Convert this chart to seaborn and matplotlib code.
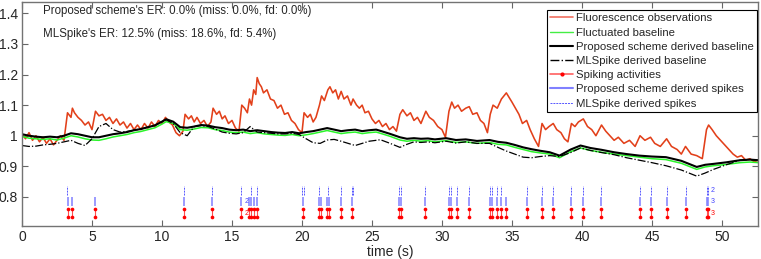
import numpy as np
import pandas as pd
import matplotlib
matplotlib.use("Agg")
import matplotlib.pyplot as plt
import seaborn as sns
from matplotlib.lines import Line2D
from matplotlib.ticker import FormatStrFormatter

# fluorescence observations (time in s, dF/F)
obs_t = [0.0, 0.25, 0.5, 0.75, 1.0, 1.25, 1.5, 1.75, 2.0, 2.25, 2.5, 2.75, 3.0, 3.25, 3.5, 3.6,
         3.75, 4.0, 4.25, 4.5, 4.75, 5.0, 5.25, 5.5, 5.75, 6.0, 6.25, 6.5, 6.75, 7.0, 7.25, 7.5,
         7.75, 8.0, 8.25, 8.5, 8.75, 9.0, 9.25, 9.5, 9.75, 10.0, 10.25, 10.5, 10.75, 11.0, 11.25,
         11.5, 11.65, 11.9, 12.1, 12.3, 12.5, 12.75, 13.0, 13.25, 13.5, 13.65, 13.9, 14.1, 14.3,
         14.5, 14.75, 15.0, 15.25, 15.5, 15.7, 15.9, 16.1, 16.25, 16.4, 16.55, 16.7, 16.8, 16.95,
         17.1, 17.25, 17.5, 17.75, 18.0, 18.25, 18.5, 18.75, 19.0, 19.25, 19.5, 19.75, 20.0, 20.15,
         20.4, 20.6, 20.8, 21.0, 21.25, 21.4, 21.6, 21.85, 22.0, 22.2, 22.4, 22.6, 22.8, 23.0,
         23.25, 23.5, 23.65, 23.9, 24.1, 24.3, 24.5, 24.75, 25.0, 25.25, 25.5, 25.75, 26.0, 26.25,
         26.5, 26.75, 27.0, 27.2, 27.5, 27.75, 28.0, 28.25, 28.5, 28.85, 29.1, 29.4, 29.7, 30.0,
         30.25, 30.5, 30.7, 30.9, 31.15, 31.4, 31.7, 31.95, 32.2, 32.5, 32.75, 33.0, 33.25, 33.45,
         33.65, 33.95, 34.25, 34.6, 34.8, 35.0, 35.25, 35.5, 35.75, 36.05, 36.3, 36.6, 36.9, 37.15,
         37.4, 37.65, 37.95, 38.2, 38.5, 38.75, 39.0, 39.25, 39.5, 39.75, 40.1, 40.4, 40.7, 41.0,
         41.4, 41.7, 42.0, 42.3, 42.6, 43.0, 43.4, 43.8, 44.15, 44.5, 44.9, 45.2, 45.6, 46.05,
         46.4, 46.8, 47.1, 47.4, 47.8, 48.2, 48.6, 48.9, 49.05, 49.3, 49.6, 49.9, 50.2, 50.5,
         50.8, 51.1, 51.4, 51.7, 52.0, 52.3, 52.6]
obs_v = [1.005, 0.99, 1.01, 0.985, 1.0, 0.98, 0.995, 0.975, 0.99, 0.97, 0.985, 1.0, 0.985, 1.075,
         1.06, 1.09, 1.075, 1.06, 1.05, 1.035, 1.045, 1.02, 1.08, 1.065, 1.07, 1.05, 1.06, 1.04,
         1.055, 1.035, 1.045, 1.025, 1.04, 1.02, 1.035, 1.02, 1.04, 1.025, 1.045, 1.03, 1.05, 1.04,
         1.06, 1.045, 1.035, 1.01, 1.0, 1.015, 1.07, 1.055, 1.065, 1.045, 1.06, 1.04, 1.05, 1.03,
         1.045, 1.09, 1.07, 1.08, 1.055, 1.065, 1.04, 1.05, 1.025, 1.015, 1.1, 1.09, 1.075, 1.12,
         1.1, 1.15, 1.135, 1.19, 1.17, 1.16, 1.14, 1.15, 1.12, 1.115, 1.09, 1.1, 1.07, 1.075, 1.05,
         1.04, 1.02, 1.01, 1.075, 1.06, 1.07, 1.045, 1.06, 1.1, 1.13, 1.115, 1.15, 1.16, 1.14, 1.15,
         1.12, 1.145, 1.12, 1.13, 1.1, 1.12, 1.1, 1.09, 1.1, 1.075, 1.08, 1.055, 1.04, 1.05, 1.03,
         1.04, 1.02, 1.03, 1.015, 1.07, 1.085, 1.065, 1.075, 1.05, 1.06, 1.04, 1.08, 1.06, 1.05,
         1.03, 1.02, 0.995, 1.08, 1.11, 1.09, 1.1, 1.08, 1.09, 1.095, 1.07, 1.075, 1.05, 1.04, 1.01,
         1.07, 1.1, 1.09, 1.12, 1.14, 1.125, 1.11, 1.09, 1.07, 1.04, 1.05, 1.02, 0.99, 0.965, 1.04,
         1.02, 1.03, 1.04, 1.02, 1.01, 0.99, 0.98, 1.04, 1.03, 1.045, 1.055, 1.03, 1.02, 1.0, 1.035,
         1.015, 1.0, 0.985, 0.995, 0.975, 0.985, 0.965, 1.0, 0.985, 0.995, 0.975, 0.965, 0.99,
         0.965, 0.955, 0.94, 0.965, 0.94, 0.935, 0.925, 1.02, 1.035, 1.02, 1.0, 0.985, 0.97, 0.955,
         0.94, 0.93, 0.935, 0.92, 0.925, 0.915, 0.92]

# baselines
base_t = [0.0, 0.5, 1.0, 1.5, 2.0, 2.5, 3.0, 3.5, 4.0, 4.5, 5.0, 5.5, 6.0, 6.5, 7.0, 7.5, 8.0,
          8.5, 9.0, 9.5, 10.0, 10.3, 10.8, 11.3, 11.8, 12.3, 12.8, 13.3, 13.8, 14.3, 14.8, 15.3,
          15.8, 16.3, 16.8, 17.3, 17.8, 18.3, 18.8, 19.3, 19.8, 20.3, 20.8, 21.3, 21.8, 22.3,
          22.8, 23.3, 23.8, 24.3, 24.8, 25.3, 25.6, 26.3, 27.0, 27.5, 28.0, 28.5, 29.0, 29.5,
          30.3, 31.0, 31.7, 32.5, 33.4, 34.0, 34.6, 35.2, 35.8, 36.4, 37.0, 37.7, 38.4, 39.2,
          39.9, 40.6, 41.4, 42.3, 43.2, 44.1, 45.0, 46.0, 47.1, 48.2, 48.8, 49.4, 50.3, 51.3,
          52.0, 52.6]
fluct_v = [0.998, 0.992, 0.99, 0.988, 0.99, 0.986, 0.992, 1.0, 0.996, 0.99, 0.986, 0.985, 0.99,
           0.996, 1.0, 1.004, 1.01, 1.014, 1.02, 1.026, 1.038, 1.046, 1.04, 1.02, 1.018, 1.022,
           1.027, 1.026, 1.02, 1.017, 1.012, 1.01, 1.012, 1.007, 1.01, 1.006, 1.004, 1.002, 1.001,
           1.004, 1.0, 1.003, 1.007, 1.012, 1.017, 1.012, 1.007, 1.01, 1.012, 1.007, 1.01, 1.012,
           1.008, 0.998, 0.986, 0.982, 0.985, 0.982, 0.984, 0.98, 0.984, 0.978, 0.98, 0.975, 0.978,
           0.972, 0.97, 0.962, 0.955, 0.948, 0.944, 0.94, 0.928, 0.948, 0.96, 0.952, 0.946, 0.94,
           0.935, 0.93, 0.925, 0.922, 0.91, 0.89, 0.898, 0.902, 0.906, 0.912, 0.914, 0.912]
proposed_v = [1.005, 1.0, 0.997, 0.995, 0.997, 0.995, 1.0, 1.008, 1.005, 1.0, 0.995, 0.995, 1.0,
              1.005, 1.008, 1.012, 1.018, 1.022, 1.028, 1.034, 1.046, 1.054, 1.046, 1.028, 1.026,
              1.03, 1.035, 1.033, 1.028, 1.025, 1.02, 1.018, 1.02, 1.015, 1.018, 1.015, 1.012,
              1.01, 1.009, 1.012, 1.008, 1.012, 1.015, 1.02, 1.025, 1.02, 1.015, 1.018, 1.02,
              1.015, 1.018, 1.02, 1.016, 1.006, 0.995, 0.99, 0.992, 0.99, 0.991, 0.988, 0.992,
              0.986, 0.988, 0.983, 0.986, 0.98, 0.977, 0.97, 0.962, 0.956, 0.951, 0.946, 0.935,
              0.955, 0.968, 0.96, 0.954, 0.946, 0.94, 0.935, 0.932, 0.93, 0.918, 0.898, 0.905,
              0.908, 0.913, 0.92, 0.922, 0.92]
mlspike_v = [0.968, 0.965, 0.966, 0.97, 0.972, 0.975, 0.98, 0.985, 0.975, 0.968, 0.99, 1.03,
             1.04, 1.02, 1.012, 1.014, 1.018, 1.022, 1.028, 1.034, 1.046, 1.052, 1.04, 1.01, 1.0,
             1.03, 1.033, 1.03, 1.022, 1.012, 1.008, 1.006, 1.01, 1.03, 1.012, 1.01, 1.008,
             1.006, 1.006, 1.008, 1.004, 0.99, 0.977, 0.975, 0.986, 0.988, 0.982, 0.975, 0.968,
             0.975, 0.982, 0.985, 0.987, 0.975, 0.962, 0.972, 0.98, 0.978, 0.98, 0.977, 0.982,
             0.976, 0.98, 0.975, 0.975, 0.962, 0.95, 0.94, 0.93, 0.928, 0.932, 0.935, 0.932,
             0.945, 0.96, 0.952, 0.945, 0.938, 0.928, 0.92, 0.912, 0.902, 0.888, 0.868, 0.878,
             0.89, 0.905, 0.92, 0.922, 0.92]

# spikes: true, proposed scheme, MLSpike
true_spikes = [3.26, 3.57, 5.21, 11.6, 13.6, 15.67, 16.2, 16.36, 16.6, 16.76, 20.07, 21.24,
               21.34, 21.82, 21.93, 22.76, 23.6, 26.95, 27.1, 28.8, 30.5, 30.64, 31.1, 31.95,
               33.43, 33.6, 33.93, 34.24, 34.57, 36.05, 37.12, 37.9, 39.24, 40.1, 41.38, 44.14,
               44.9, 46.05, 47.4, 48.9, 49.02]
proposed_spikes = true_spikes
mlspike_spikes = [3.24, 11.6, 13.6, 15.67, 16.35, 16.76, 20.0, 20.12, 21.24, 21.85, 22.76,
                  23.55, 23.68, 26.95, 27.1, 28.8, 30.5, 30.64, 31.1, 31.95, 33.43, 33.6,
                  33.93, 34.24, 36.05, 37.12, 37.9, 39.24, 40.1, 41.38, 44.14, 44.9, 46.05,
                  47.4, 48.9, 49.02]
# multi-spike count labels: (time, count)
true_counts = [(15.67, 2), (49.02, 3)]
proposed_counts = [(15.67, 2), (49.02, 3)]
mlspike_counts = [(49.02, 2)]

er_text = ["Proposed scheme's ER: 0.0% (miss: 0.0%, fd: 0.0%)",
           "MLSpike's ER: 12.5% (miss: 18.6%, fd: 5.4%)"]

sns.set_theme(style="white")
plt.rcParams["font.family"] = ["Liberation Sans", "DejaVu Sans"]

fig = plt.figure(figsize=(7.61, 2.59), dpi=100)
ax = fig.add_axes([22 / 761, 33.3 / 259, 736.3 / 761, 223.4 / 259])

obs = pd.DataFrame({"t": obs_t, "v": obs_v})
base = pd.DataFrame({"t": base_t, "fluct": fluct_v, "prop": proposed_v, "ml": mlspike_v})

red = "#e2401a"
sns.lineplot(data=obs, x="t", y="v", ax=ax, color=red, lw=1.15, sort=False, estimator=None)
sns.lineplot(data=base, x="t", y="fluct", ax=ax, color="#2af52a", lw=1.1, sort=False, estimator=None)
sns.lineplot(data=base, x="t", y="prop", ax=ax, color="black", lw=1.5, sort=False, estimator=None)
sns.lineplot(data=base, x="t", y="ml", ax=ax, color="black", lw=0.9, ls="-.", sort=False,
             estimator=None)

# spike rasters
ax.vlines(true_spikes, 0.733, 0.760, color="#ff5050", lw=0.8)
sns.scatterplot(x=true_spikes + true_spikes, y=[0.733] * len(true_spikes) + [0.760] * len(true_spikes),
                ax=ax, color="red", s=7, linewidth=0, zorder=5)
ax.vlines(proposed_spikes, 0.771, 0.800, color="#7f7fff", lw=1.1)
ax.vlines(mlspike_spikes, 0.806, 0.836, color="#5555ff", lw=0.7, linestyles=(0, (2, 1)))
for t, c in true_counts:
    ax.text(t + 0.2, 0.747, str(c), color="red", fontsize=5, va="center")
for t, c in proposed_counts:
    ax.text(t + 0.2, 0.785, str(c), color="#4444ff", fontsize=5, va="center")
for t, c in mlspike_counts:
    ax.text(t + 0.2, 0.821, str(c), color="#4444ff", fontsize=5, va="center")

ax.text(1.5, 1.407, er_text[0], fontsize=8.3, va="center")
ax.text(1.5, 1.332, er_text[1], fontsize=8.3, va="center")

ax.set_xlim(0, 52.6)
ax.set_ylim(0.706, 1.436)
ax.set_xticks(range(0, 51, 5))
ax.set_yticks([0.8, 0.9, 1.0, 1.1, 1.2, 1.3, 1.4])
ax.yaxis.set_major_formatter(FormatStrFormatter("%g"))
ax.set_xlabel("time (s)", fontsize=10, labelpad=1)
ax.set_ylabel("")
ax.tick_params(direction="in", length=4, width=0.8, color="0.4", labelsize=10,
               top=True, right=True, bottom=True, left=True, pad=3)
for s in ax.spines.values():
    s.set_color("0.45")
    s.set_linewidth(1.0)

handles = [
    Line2D([], [], color="#f07060", lw=1.2),
    Line2D([], [], color="#44ee44", lw=1.0),
    Line2D([], [], color="black", lw=1.5),
    Line2D([], [], color="black", lw=1.0, ls="-."),
    Line2D([], [], color="#ff6060", lw=1.2, marker=".", markersize=4, markerfacecolor="red",
           markeredgecolor="red"),
    Line2D([], [], color="#8080ff", lw=1.5),
    Line2D([], [], color="#5555ff", lw=0.7, ls=(0, (2, 1))),
]
labels = ["Fluorescence observations", "Fluctuated baseline", "Proposed scheme derived baseline",
          "MLSpike derived baseline", "Spiking activities", "Proposed scheme derived spikes",
          "MLSpike derived spikes"]
leg = ax.legend(handles, labels, loc="upper right", bbox_to_anchor=(0.998, 0.966),
                borderaxespad=0, fontsize=8.2, frameon=True, fancybox=False, framealpha=1,
                edgecolor="black", labelspacing=0.37, handlelength=2.0, handletextpad=0.2,
                borderpad=0.3)
leg.get_frame().set_linewidth(0.8)

fig.savefig("out.png", dpi=100)
